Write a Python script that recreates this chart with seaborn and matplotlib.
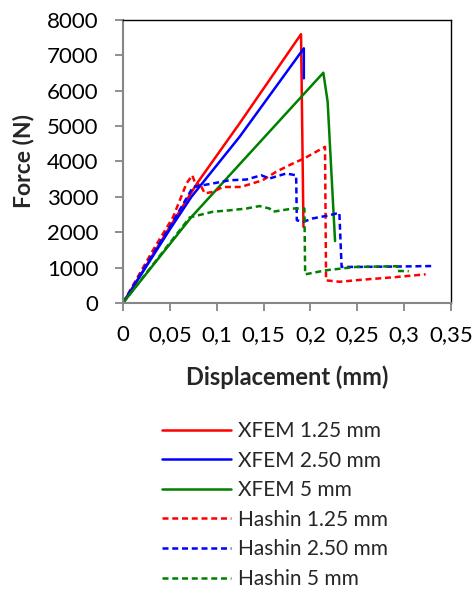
import numpy as np
import pandas as pd
import matplotlib
matplotlib.use("Agg")
import matplotlib.pyplot as plt
import seaborn as sns

# Force-displacement curves
xfem_125_x = [0, 0.02, 0.05, 0.080, 0.1245, 0.190, 0.1926]
xfem_125_y = [0, 850, 2150, 3420, 5080, 7600, 2150]

xfem_250_x = [0, 0.02, 0.05, 0.073, 0.1245, 0.193, 0.193]
xfem_250_y = [0, 830, 2080, 3000, 4700, 7200, 6350]

xfem_5_x = [0, 0.073, 0.2138, 0.2184, 0.2263]
xfem_5_y = [0, 2430, 6510, 5690, 1750]

hashin_125_x = [0, 0.0322, 0.0535, 0.0678, 0.074, 0.0783, 0.082, 0.0872, 0.096,
                0.1067, 0.126, 0.149, 0.1635, 0.181, 0.1936, 0.2156, 0.2167,
                0.231, 0.252, 0.29, 0.323]
hashin_125_y = [0, 1500, 2430, 3380, 3610, 3290, 3380, 3100, 3140,
                3280, 3280, 3470, 3710, 3940, 4090, 4415, 640,
                600, 650, 730, 810]

hashin_250_x = [0, 0.02, 0.05, 0.0748, 0.096, 0.1138, 0.1316, 0.1475, 0.1564,
                0.1741, 0.1848, 0.1855, 0.1918, 0.2025, 0.2202, 0.2309, 0.2333,
                0.252, 0.29, 0.332]
hashin_250_y = [0, 880, 2150, 3280, 3380, 3470, 3490, 3610, 3520,
                3660, 3610, 2340, 2290, 2390, 2480, 2550, 1020,
                1020, 1030, 1045]

hashin_5_x = [0, 0.0713, 0.096, 0.1138, 0.1316, 0.1457, 0.1564, 0.16, 0.1812,
              0.1936, 0.1944, 0.2167, 0.2486, 0.293, 0.293, 0.305]
hashin_5_y = [0, 2420, 2580, 2620, 2670, 2740, 2670, 2580, 2670,
              2670, 810, 925, 1020, 1040, 905, 900]

series_names = ["XFEM 1.25 mm", "XFEM 2.50 mm", "XFEM 5 mm",
                "Hashin 1.25 mm", "Hashin 2.50 mm", "Hashin 5 mm"]
series_x = [xfem_125_x, xfem_250_x, xfem_5_x, hashin_125_x, hashin_250_x, hashin_5_x]
series_y = [xfem_125_y, xfem_250_y, xfem_5_y, hashin_125_y, hashin_250_y, hashin_5_y]

x_ticks = [0, 0.05, 0.1, 0.15, 0.2, 0.25, 0.3, 0.35]
x_tick_labels = ["0", "0,05", "0,1", "0,15", "0,2", "0,25", "0,3", "0,35"]
y_ticks = [0, 1000, 2000, 3000, 4000, 5000, 6000, 7000, 8000]

palette = {
    "XFEM 1.25 mm": "#ff0000", "XFEM 2.50 mm": "#0000ff", "XFEM 5 mm": "#008000",
    "Hashin 1.25 mm": "#ff0000", "Hashin 2.50 mm": "#0000ff", "Hashin 5 mm": "#008000",
}
dash_map = {
    "XFEM 1.25 mm": "", "XFEM 2.50 mm": "", "XFEM 5 mm": "",
    "Hashin 1.25 mm": (2.4, 1.5), "Hashin 2.50 mm": (2.4, 1.5), "Hashin 5 mm": (2.4, 1.5),
}

frames = []
for name, xs, ys in zip(series_names, series_x, series_y):
    frames.append(pd.DataFrame({"x": xs, "y": ys, "series": name,
                                "order": np.arange(len(xs))}))
df = pd.concat(frames, ignore_index=True)

sns.set_style("white")
plt.rcParams["font.family"] = ["Lato", "DejaVu Sans"]

fig = plt.figure(figsize=(4.75, 5.92), dpi=100)
ax = fig.add_axes([0.2589, 0.4882, 0.6905, 0.478])

sns.lineplot(data=df, x="x", y="y", hue="series", style="series",
             hue_order=series_names, style_order=series_names,
             palette=palette, dashes=dash_map, sort=False, estimator=None,
             linewidth=1.8, ax=ax, legend=True)

ax.set_xlim(0, 0.35)
ax.set_ylim(0, 8000)
ax.set_xticks(x_ticks)
ax.set_xticklabels(x_tick_labels)
ax.set_yticks(y_ticks)
ax.set_yticklabels([str(v) for v in y_ticks])
ax.tick_params(axis="both", labelsize=16, colors="#868686", labelcolor="black",
               length=5.8, width=1.3, direction="out", left=True, bottom=True)
ax.tick_params(axis="x", pad=10)
ax.tick_params(axis="y", pad=12)

for side in ["left", "bottom"]:
    ax.spines[side].set_color("#868686")
    ax.spines[side].set_linewidth(1.5)
for side in ["top", "right"]:
    ax.spines[side].set_color("black")
    ax.spines[side].set_linewidth(1.0)

ax.set_xlabel("Displacement (mm)", fontsize=17, fontweight="bold", labelpad=15)
ax.set_ylabel("Force (N)", fontsize=16.5, fontweight="bold", labelpad=9)

handles, labels = ax.get_legend_handles_labels()
ax.legend(handles, labels, loc="upper left", bbox_to_anchor=(162 / 475, 1 - 421 / 592),
          bbox_transform=fig.transFigure, frameon=False, fontsize=15,
          handlelength=3.3, handletextpad=0.33, labelspacing=0.46,
          borderpad=0, borderaxespad=0)

fig.savefig("out.png", dpi=100)
